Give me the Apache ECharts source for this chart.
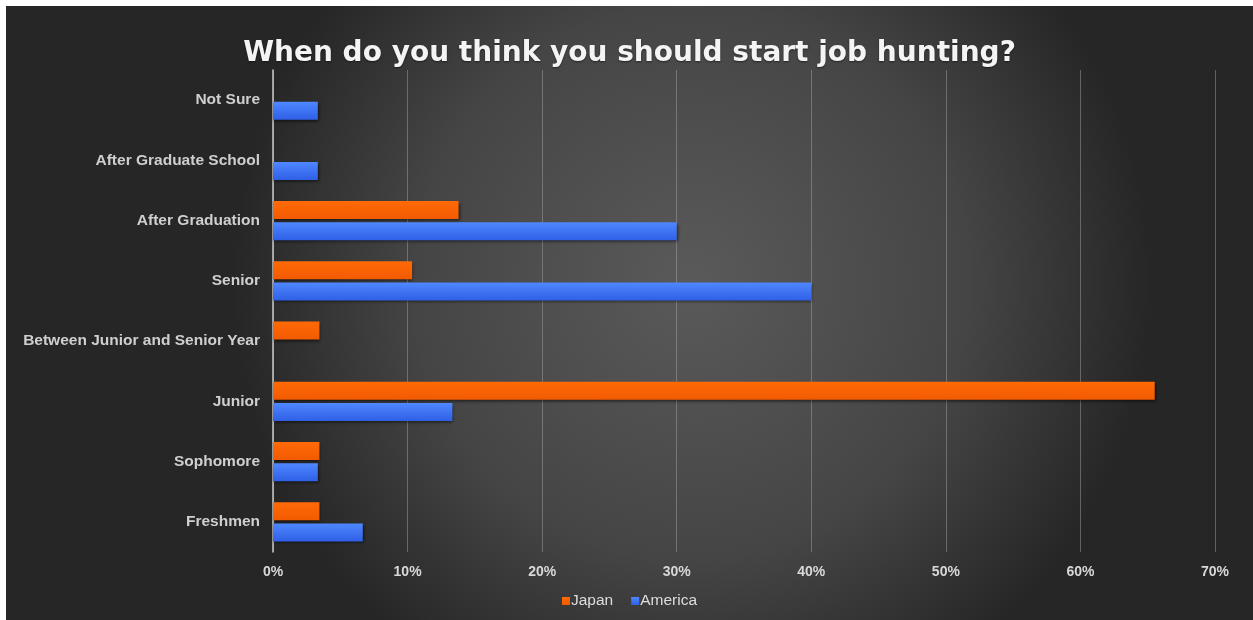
<!DOCTYPE html>
<html>
<head>
<meta charset="utf-8">
<script src="https://cdn.jsdelivr.net/npm/echarts@6/dist/echarts.min.js"></script>
<style>
  html, body { margin: 0; padding: 0; background: #ffffff; overflow: hidden; width: 100%; height: 100%; }
  #chart { position: absolute; left: 6px; top: 6px; right: 0; bottom: 0; }
</style>
</head>
<body>
<div id="chart"></div>
<script>
// Survey answers: share of respondents (%) per country
const categories = [
  'Freshmen',
  'Sophomore',
  'Junior',
  'Between Junior and Senior Year',
  'Senior',
  'After Graduation',
  'After Graduate School',
  'Not Sure'
];
const japanValues   = [3.45, 3.45, 65.52, 3.45, 10.34, 13.79, null, null];
const americaValues = [6.67, 3.33, 13.33, null, 40.0, 30.0, 3.33, 3.33];
const xTicks = [0, 10, 20, 30, 40, 50, 60, 70];

const chart = echarts.init(document.getElementById('chart'));

const labelFont = '"Liberation Sans", Arial, Helvetica, sans-serif';

function barStyle(top, bottom) {
  return {
    color: new echarts.graphic.LinearGradient(0, 0, 0, 1, [
      { offset: 0, color: top },
      { offset: 1, color: bottom }
    ]),
    shadowColor: 'rgba(0,0,0,0.55)',
    shadowBlur: 3,
    shadowOffsetX: 1,
    shadowOffsetY: 2
  };
}

chart.setOption({
  backgroundColor: {
    type: 'radial', x: 0.55, y: 0.45, r: 0.75,
    colorStops: [
      { offset: 0, color: '#5a5a5a' },
      { offset: 0.6, color: '#454545' },
      { offset: 1, color: '#262626' }
    ]
  },
  animation: false,
  title: {
    text: 'When do you think you should start job hunting?',
    left: 'center',
    top: 29,
    textStyle: {
      color: '#f4f4f4',
      fontFamily: '"DejaVu Sans", sans-serif',
      fontWeight: 'bold',
      fontSize: 28,
      textShadowColor: 'rgba(0,0,0,0.5)',
      textShadowBlur: 2,
      textShadowOffsetY: 1
    }
  },
  legend: {
    data: ['Japan', 'America'],
    bottom: 6,
    left: 'center',
    icon: 'rect',
    itemWidth: 8,
    itemHeight: 8,
    itemGap: 18,
    textStyle: { color: '#dddddd', fontSize: 15.5, fontFamily: labelFont, padding: [0, 0, 0, -4] }
  },
  grid: { left: 267, right: 38, top: 64, bottom: 68, containLabel: false },
  xAxis: {
    type: 'value',
    min: xTicks[0],
    max: xTicks[xTicks.length - 1],
    interval: 10,
    axisLabel: {
      color: '#d8d8d8',
      fontSize: 14,
      fontWeight: 'bold',
      fontFamily: labelFont,
      margin: 13,
      formatter: '{value}%'
    },
    axisLine: { show: false },
    axisTick: { show: false },
    splitLine: { lineStyle: { color: 'rgba(170,170,170,0.45)', width: 1 } }
  },
  yAxis: {
    type: 'category',
    data: categories,
    axisLine: { show: true, lineStyle: { color: '#c8c8c8', width: 1.5 } },
    axisTick: { show: false },
    axisLabel: {
      color: '#cfcfcf',
      fontSize: 15.5,
      fontWeight: 'bold',
      fontFamily: labelFont,
      margin: 13
    }
  },
  series: [
    {
      name: 'Japan',
      type: 'bar',
      data: japanValues,
      barWidth: 18,
      barGap: '17%',
      itemStyle: barStyle('#ff6a08', '#f25a00')
    },
    {
      name: 'America',
      type: 'bar',
      data: americaValues,
      barWidth: 18,
      barGap: '17%',
      itemStyle: barStyle('#4f88ff', '#2f5fe6')
    }
  ]
});
</script>
</body>
</html>
